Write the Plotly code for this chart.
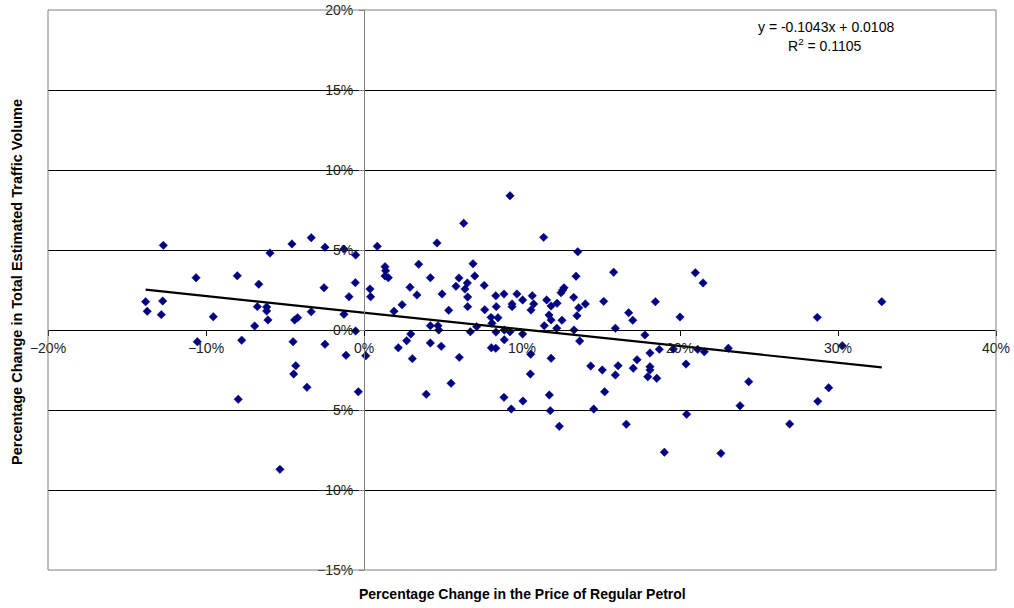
import plotly.graph_objects as go

# Percentage change in price of regular petrol (fraction)
price_change = [
    -0.1270, -0.1382, -0.1372, -0.1274, -0.1283, -0.1063, -0.0954, -0.0802, -0.0666, -0.0675,
    -0.0616, -0.0616, -0.0692, -0.0608, -0.0595, -0.0456, -0.0334, -0.0247, -0.0439, -0.0420,
    -0.0334, -0.0253, -0.0127, -0.0127, -0.0053, -0.0055, -0.0095, 0.0038, 0.0042, 0.0084,
    -0.0053, -0.1055, -0.0774, -0.0449, -0.0247, -0.0114, 0.0011, -0.0432, -0.0445, -0.0361,
    -0.0036, -0.0796, -0.0532,
    0.0133, 0.0137, 0.0133, 0.0154, 0.0190, 0.0241, 0.0291, 0.0335, 0.0346, 0.0420,
    0.0462, 0.0494, 0.0536, 0.0420, 0.0468, 0.0473, 0.0296, 0.0582, 0.0601, 0.0631,
    0.0654, 0.0639, 0.0656, 0.0656, 0.0690, 0.0701, 0.0673, 0.0713, 0.0761, 0.0764,
    0.0804, 0.0810, 0.0848, 0.0835, 0.0834, 0.0837, 0.0886, 0.0888, 0.0924, 0.0924,
    0.0937, 0.0937, 0.0968, 0.1004, 0.1004, 0.1065, 0.1074, 0.1057, 0.1137, 0.1141,
    0.1156, 0.1184, 0.1171, 0.1184, 0.1222, 0.1220, 0.1247, 0.1258, 0.1266, 0.1253,
    0.1327, 0.1342, 0.1353, 0.1359, 0.1348, 0.1329, 0.1401, 0.1517, 0.1580, 0.1591,
    0.0270, 0.0217, 0.0306, 0.0420, 0.0489, 0.0603, 0.0551, 0.0394, 0.0806, 0.0834,
    0.0888, 0.1055, 0.1053, 0.0886, 0.0932, 0.1006, 0.1184, 0.1173, 0.1179, 0.1236,
    0.1365, 0.1435, 0.1508, 0.1591, 0.1608, 0.1523, 0.1454,
    0.1675, 0.1701, 0.1778, 0.1844, 0.2000, 0.2097, 0.2146, 0.2869, 0.3277, 0.1728,
    0.1810, 0.1704, 0.1810, 0.1810, 0.1796, 0.1853, 0.1869, 0.1958, 0.2038, 0.2112,
    0.2154, 0.2306, 0.2435, 0.2380, 0.2042, 0.1660, 0.1901, 0.2259, 0.2694, 0.2872,
    0.2941, 0.3027,
]

# Percentage change in total estimated traffic volume (fraction)
traffic_change = [
    0.0529, 0.0177, 0.0117, 0.0181, 0.0096, 0.0327, 0.0083, 0.0339, 0.0286, 0.0146,
    0.0144, 0.0119, 0.0025, 0.0063, 0.0481, 0.0538, 0.0577, 0.0517, 0.0063, 0.0077,
    0.0114, 0.0264, 0.0098, 0.0506, 0.0469, 0.0296, 0.0208, 0.0256, 0.0208, 0.0523,
    -0.0006, -0.0073, -0.0064, -0.0073, -0.0089, -0.0158, -0.0161, -0.0223, -0.0275, -0.0358,
    -0.0386, -0.0433, -0.0871,
    0.0396, 0.0371, 0.0338, 0.0327, 0.0117, 0.0158, 0.0267, 0.0219, 0.0411, 0.0327,
    0.0544, 0.0225, 0.0123, 0.0027, 0.0027, 0.0000, -0.0025, 0.0273, 0.0325, 0.0667,
    0.0294, 0.0256, 0.0206, 0.0146, 0.0414, 0.0338, -0.0011, 0.0021, 0.0279, 0.0127,
    0.0079, 0.0042, 0.0077, -0.0013, 0.0214, 0.0146, 0.0225, 0.0000, 0.0839, -0.0011,
    0.0163, 0.0146, 0.0225, 0.0188, -0.0025, 0.0214, 0.0163, 0.0125, 0.0579, 0.0027,
    0.0188, 0.0150, 0.0094, 0.0063, 0.0167, 0.0011, 0.0233, 0.0250, 0.0264, 0.0061,
    0.0204, 0.0336, 0.0489, 0.0139, 0.0089, 0.0000, 0.0163, 0.0179, 0.0361, 0.0011,
    -0.0067, -0.0111, -0.0179, -0.0081, -0.0102, -0.0171, -0.0333, -0.0402, -0.0111, -0.0114,
    -0.0061, -0.0152, -0.0275, -0.0421, -0.0494, -0.0444, -0.0177, -0.0406, -0.0504, -0.0602,
    -0.0069, -0.0225, -0.0250, -0.0281, -0.0223, -0.0386, -0.0494,
    0.0108, 0.0061, -0.0031, 0.0177, 0.0081, 0.0358, 0.0294, 0.0079, 0.0177, -0.0186,
    -0.0144, -0.0239, -0.0229, -0.0250, -0.0292, -0.0302, -0.0121, -0.0119, -0.0213, -0.0121,
    -0.0136, -0.0114, -0.0323, -0.0473, -0.0527, -0.0589, -0.0764, -0.0771, -0.0588, -0.0446,
    -0.0361, -0.0098,
]

# Linear trend shown on the chart
trend_slope = -0.1043
trend_intercept = 0.0108
trend_label = "y = -0.1043x + 0.0108"
r2_label = "R<sup>2</sup> = 0.1105"

x_ticks = [-0.2, -0.1, 0.0, 0.1, 0.2, 0.3, 0.4]
y_ticks = [-0.15, -0.10, -0.05, 0.0, 0.05, 0.10, 0.15, 0.20]
x_range = [-0.2, 0.4]
y_range = [-0.15, 0.2]

x_title = "Percentage Change in the Price of Regular Petrol"
y_title = "Percentage Change in Total Estimated Traffic Volume"

FONT = "Liberation Sans, Arial, sans-serif"

trend_x = [min(price_change), max(price_change)]
trend_y = [trend_slope * v + trend_intercept for v in trend_x]

fig = go.Figure()
fig.add_trace(go.Scatter(
    x=price_change, y=traffic_change, mode="markers",
    marker=dict(symbol="diamond", size=6.5, color="#000080",
                line=dict(width=0.5, color="#000080")),
    showlegend=False, hoverinfo="x+y",
))
fig.add_trace(go.Scatter(
    x=trend_x, y=trend_y, mode="lines",
    line=dict(color="black", width=2.2),
    showlegend=False, hoverinfo="skip",
))

x_pos = (0 - y_range[0]) / (y_range[1] - y_range[0])
y_pos = (0 - x_range[0]) / (x_range[1] - x_range[0])

fig.update_layout(
    width=1014, height=608,
    margin=dict(l=48, r=18, t=10, b=38),
    paper_bgcolor="white", plot_bgcolor="white",
    font=dict(family=FONT, size=14, color="#222"),
    xaxis=dict(
        range=x_range, tickvals=x_ticks, tickformat=".0%",
        anchor="free", position=x_pos,
        showgrid=False, zeroline=False,
        showline=True, linecolor="black", linewidth=1,
        ticks="outside", ticklen=5, tickcolor="black",
        automargin=False, fixedrange=True, ticklabeloverflow="allow",
        tickfont=dict(family=FONT, size=14, color="#222"),
    ),
    yaxis=dict(
        range=y_range, tickvals=y_ticks, tickformat=".0%",
        anchor="free", position=y_pos,
        showgrid=True, gridcolor="black", gridwidth=1,
        zeroline=False,
        showline=True, linecolor="#808080", linewidth=1,
        ticks="outside", ticklen=5, tickcolor="#808080",
        ticklabelstandoff=3,
        automargin=False, fixedrange=True, ticklabeloverflow="allow",
        tickfont=dict(family=FONT, size=14, color="#222"),
    ),
    shapes=[dict(type="rect", xref="paper", yref="paper", x0=0, x1=1, y0=0, y1=1,
                 line=dict(color="#808080", width=1), layer="above")],
    annotations=[
        dict(text=trend_label, xref="paper", yref="paper",
             x=(826 - 48) / 948, y=(570 - 27) / 560, showarrow=False,
             xanchor="center", yanchor="middle", font=dict(size=14, color="black")),
        dict(text=r2_label, xref="paper", yref="paper",
             x=(825 - 48) / 948, y=(570 - 45) / 560, showarrow=False,
             xanchor="center", yanchor="middle", font=dict(size=14, color="black")),
        dict(text="<b>" + x_title + "</b>", xref="paper", yref="paper",
             x=(522 - 48) / 948, y=(570 - 594) / 560, showarrow=False,
             xanchor="center", yanchor="middle", font=dict(size=14, color="black")),
        dict(text="<b>" + y_title + "</b>", xref="paper", yref="paper",
             x=(17 - 48) / 948, y=(570 - 282) / 560, showarrow=False, textangle=-90,
             xanchor="center", yanchor="middle", font=dict(size=14.5, color="black")),
    ],
)

# remove the browser's default 8px body margin so the figure fills the window
fig.write_html("out.html",
               config={"displayModeBar": False},
               post_script="document.body.style.margin='0';document.body.style.overflow='hidden';")
